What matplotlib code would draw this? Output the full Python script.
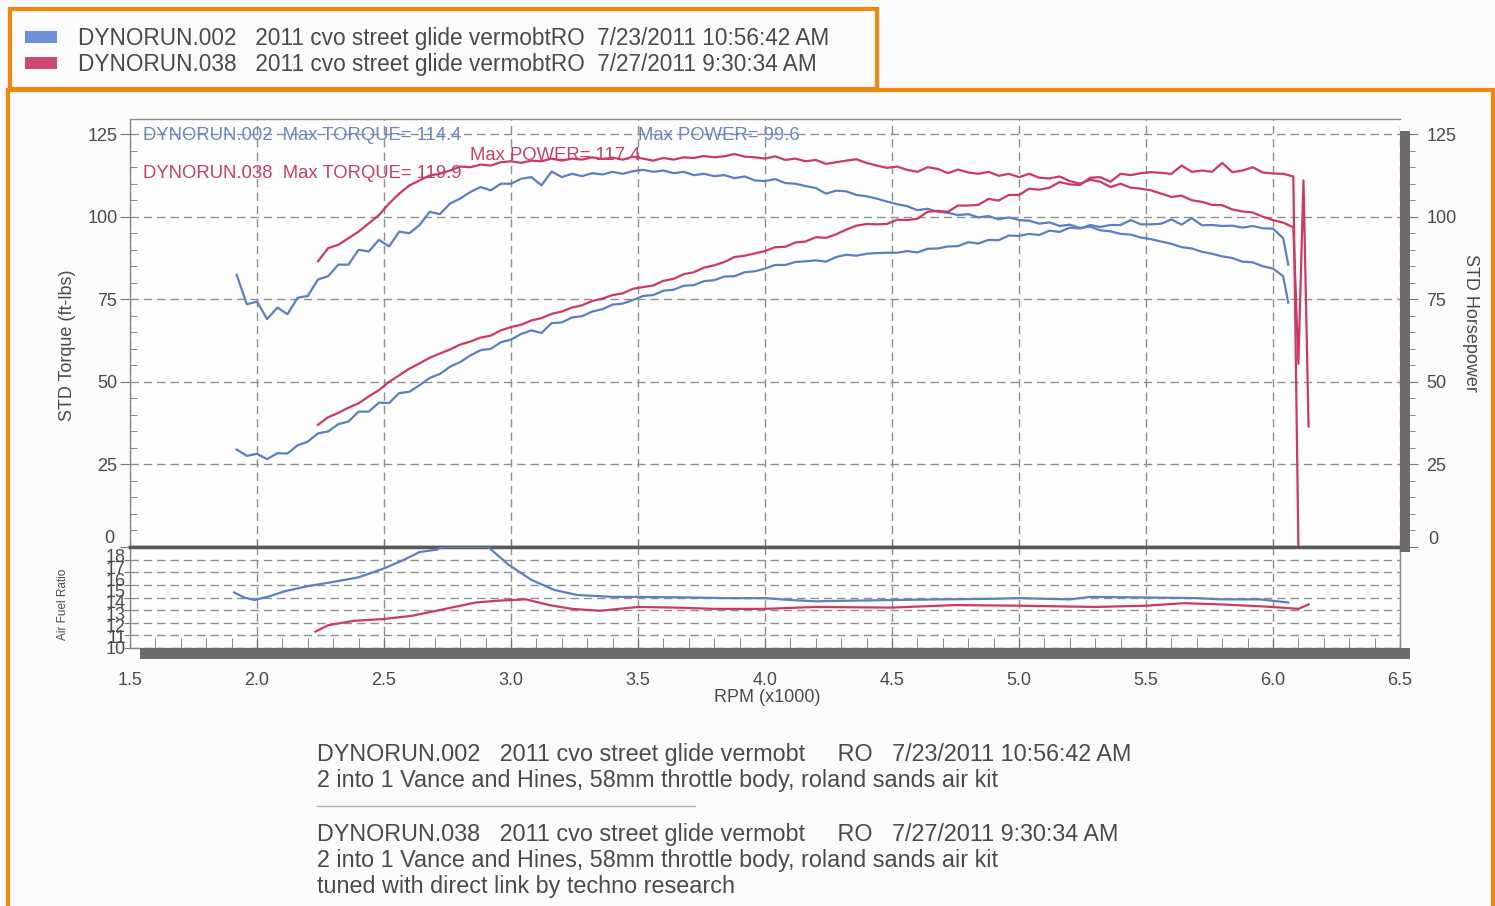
import numpy as np
import matplotlib.pyplot as plt
from matplotlib.patches import Rectangle
from matplotlib.lines import Line2D
from matplotlib.ticker import MultipleLocator

plt.rcParams['font.family'] = ['Liberation Sans', 'DejaVu Sans']

# ---- run DYNORUN.002 (blue) ----
rpm_002 = np.append(np.round(np.arange(1.92, 6.041, 0.04), 2), 6.06)
torque_002 = [
    82.4, 73.5, 74.3, 69.0, 72.5, 70.5, 75.5, 76.0, 81.0, 82.0,
    85.5, 85.5, 90.0, 89.5, 93.0, 91.0, 95.5, 95.0, 97.5, 101.5,
    100.8, 104.0, 105.5, 107.5, 109.0, 108.0, 110.0, 110.0, 111.5, 112.0,
    109.5, 113.7, 112.0, 113.0, 112.3, 113.2, 112.8, 113.6, 113.0, 113.8,
    114.2, 113.6, 114.0, 113.2, 113.6, 112.6, 113.0, 112.3, 112.6, 111.7,
    112.2, 111.0, 110.8, 111.4, 110.2, 110.0, 109.3, 108.7, 107.0, 107.9,
    107.7, 106.6, 106.2, 105.5, 104.6, 103.8, 103.2, 102.0, 102.4, 101.5,
    101.2, 100.5, 100.8, 99.8, 100.2, 99.2, 99.8, 99.0, 98.8, 97.9,
    98.3, 97.2, 97.6, 96.6, 97.0, 95.9, 95.6, 94.8, 94.6, 93.7,
    93.2, 92.5, 91.8, 90.8, 90.4, 89.4, 88.8, 88.0, 87.5, 86.4,
    86.2, 85.0, 84.3, 82.0, 74.0]
power_002 = [
    29.5, 27.6, 28.2, 26.6, 28.4, 28.3, 30.8, 31.9, 34.4, 35.0,
    37.2, 38.0, 41.0, 41.0, 43.7, 43.6, 46.6, 47.0, 49.0, 51.2,
    52.4, 54.6, 56.0, 58.0, 59.6, 60.0, 62.0, 62.8, 64.5, 65.6,
    64.8, 67.8, 68.0, 69.5, 69.9, 71.3, 72.0, 73.4, 73.7, 74.8,
    76.0, 76.3, 77.6, 77.9, 79.1, 79.3, 80.5, 80.8, 81.9, 82.0,
    83.2, 83.5, 84.3, 85.4, 85.4, 86.3, 86.5, 86.8, 86.4, 87.8,
    88.5, 88.2, 88.8, 89.0, 89.1, 89.1, 89.6, 89.2, 90.3, 90.4,
    91.0, 91.1, 92.3, 91.9, 93.0, 92.9, 94.3, 94.2, 94.8, 94.5,
    95.8, 95.4, 96.7, 96.4, 97.5, 96.9, 97.5, 97.5, 99.0, 97.7,
    97.7, 97.9, 99.2, 97.6, 99.6, 97.4, 97.5, 97.2, 97.3, 96.7,
    97.2, 96.5, 96.4, 93.5, 85.5]
afr_rpm_002 = [1.91, 1.95, 1.99, 2.05, 2.11, 2.20, 2.29, 2.40, 2.50, 2.58,
               2.64, 2.71, 2.73, 2.91, 2.99, 3.08, 3.17, 3.26, 3.40, 3.50,
               3.70, 3.85, 4.00, 4.10, 4.20, 4.35, 4.50, 4.70, 4.90, 5.00,
               5.20, 5.28, 5.50, 5.70, 5.80, 5.95, 6.06]
afr_002 = [14.4, 14.0, 13.8, 14.1, 14.5, 14.9, 15.2, 15.6, 16.3, 17.0,
           17.6, 17.8, 18.0, 18.0, 16.6, 15.4, 14.6, 14.2, 14.05, 14.05,
           14.0, 13.95, 13.95, 13.8, 13.7, 13.75, 13.8, 13.85, 13.9, 13.95,
           13.85, 14.05, 14.0, 13.95, 13.85, 13.85, 13.6]

# ---- run DYNORUN.038 (red) ----
rpm_038 = np.round(np.arange(2.24, 6.081, 0.04), 2)
torque_rpm_038 = np.append(rpm_038, [6.10, 6.12, 6.14])
torque_038 = [
    86.5, 90.5, 91.5, 93.5, 95.5, 98.0, 100.5, 104.0, 107.0, 109.5,
    111.0, 112.5, 113.0, 114.0, 115.2, 115.0, 115.8, 115.5, 116.5, 116.8,
    116.3, 117.0, 116.8, 117.6, 117.0, 117.6, 117.3, 118.0, 117.5, 117.9,
    117.3, 118.2, 117.6, 117.0, 117.8, 117.3, 118.0, 117.8, 118.4, 118.0,
    118.3, 119.0, 118.2, 118.0, 117.6, 118.3, 117.2, 117.6, 116.8, 117.2,
    116.0, 116.5, 117.0, 117.4, 116.3, 115.5, 114.8, 115.2, 114.2, 113.6,
    115.0, 114.5, 113.2, 114.3, 113.4, 113.0, 113.6, 112.4, 113.0, 112.0,
    113.0, 111.8, 111.6, 112.2, 110.8, 110.0, 111.2, 110.6, 109.0, 110.0,
    108.8, 108.5, 108.0, 107.0, 106.0, 106.4, 105.0, 104.5, 103.6, 103.5,
    102.2, 101.6, 101.3, 100.0, 99.0, 98.2, 96.8,
    55.5, 111.0, 36.5]
power_rpm_038 = np.append(rpm_038, 6.10)
power_038 = [
    37.0, 39.3, 40.6, 42.2, 43.5, 45.6, 47.5, 50.0, 52.0, 54.0,
    55.6, 57.3, 58.6, 59.8, 61.3, 62.2, 63.4, 64.0, 65.6, 66.6,
    67.3, 68.6, 69.3, 70.6, 71.3, 72.5, 73.2, 74.5, 75.2, 76.3,
    76.8, 78.2, 78.7, 79.2, 80.6, 81.2, 82.6, 83.2, 84.6, 85.3,
    86.3, 87.8, 88.2, 88.9, 89.6, 90.8, 90.9, 92.2, 92.5, 93.8,
    93.6, 94.7, 96.1, 97.3, 97.8, 97.7, 97.8, 99.1, 99.0, 99.4,
    101.5, 101.8, 101.5, 103.4, 103.4, 103.6, 105.4, 104.9, 106.6, 106.6,
    108.5, 108.2, 108.8, 110.5, 109.8, 109.6, 111.8, 112.0, 110.6, 113.0,
    112.6, 113.2, 113.5, 113.3, 113.0, 115.5, 113.6, 114.0, 113.6, 116.3,
    113.5, 114.0, 115.0, 113.4, 113.1, 113.0, 112.2,
    0.0]
afr_rpm_038 = [2.23, 2.28, 2.38, 2.50, 2.61, 2.73, 2.86, 2.95, 3.06, 3.15,
               3.24, 3.35, 3.45, 3.50, 3.65, 3.80, 4.00, 4.20, 4.50, 4.75,
               5.00, 5.30, 5.50, 5.65, 5.80, 6.00, 6.10, 6.14]
afr_038 = [11.3, 11.8, 12.15, 12.3, 12.55, 13.05, 13.6, 13.75, 13.85, 13.4,
           13.1, 12.95, 13.15, 13.25, 13.2, 13.1, 13.1, 13.25, 13.2, 13.4,
           13.35, 13.25, 13.35, 13.55, 13.45, 13.25, 13.1, 13.45]

y_ticks = [0, 25, 50, 75, 100, 125]
afr_ticks = [10, 11, 12, 13, 14, 15, 16, 17, 18]

legend_lines = ["DYNORUN.002   2011 cvo street glide vermobtRO  7/23/2011 10:56:42 AM",
                "DYNORUN.038   2011 cvo street glide vermobtRO  7/27/2011 9:30:34 AM"]
notes = ["DYNORUN.002   2011 cvo street glide vermobt     RO   7/23/2011 10:56:42 AM",
         "2 into 1 Vance and Hines, 58mm throttle body, roland sands air kit",
         "DYNORUN.038   2011 cvo street glide vermobt     RO   7/27/2011 9:30:34 AM",
         "2 into 1 Vance and Hines, 58mm throttle body, roland sands air kit",
         "tuned with direct link by techno research"]

BLUE = '#5c7fbd'
RED = '#c93a64'
ORANGE = '#f0870f'
GRID = '#8f8f8f'
TXT = '#4a4a4a'
SHADOW = '#6e6a6c'

W, H = 1495, 906


def fx(px):
    return px / W


def fy(py):
    return 1 - py / H


fig = plt.figure(figsize=(W / 100, H / 100), dpi=100, facecolor='#fbfbfb')

# orange frames
fig.add_artist(Rectangle((fx(8), fy(912)), fx(1493) - fx(8), (912 - 90) / H,
                         transform=fig.transFigure, fill=False, ec=ORANGE, lw=3))
fig.add_artist(Rectangle((fx(10), fy(89)), fx(877) - fx(10), (89 - 9) / H,
                         transform=fig.transFigure, fill=False, ec=ORANGE, lw=3))

# top legend
for i, (txt, c) in enumerate(zip(legend_lines, ['#6d8fd6', '#cc4a72'])):
    yc = 37 + 26 * i
    fig.add_artist(Rectangle((fx(25), fy(yc + 6)), fx(57) - fx(25), 12 / H,
                             transform=fig.transFigure, fc=c, ec='none'))
    fig.text(fx(78), fy(yc + 1), txt, fontsize=16.3, color=TXT, va='center', ha='left')

# ---- main torque / power axes ----
ax = fig.add_axes([fx(130), fy(547), fx(1400) - fx(130), fy(119) - fy(547)])
ax.set_facecolor('#fdfdfd')
ax.plot(rpm_002, torque_002, color=BLUE, lw=1.6, zorder=3)
ax.plot(rpm_002, power_002, color=BLUE, lw=1.6, zorder=3)
ax.plot(torque_rpm_038, torque_038, color=RED, lw=1.6, zorder=3)
ax.plot(power_rpm_038, power_038, color=RED, lw=1.6, zorder=3)
ax.set_xlim(1.5, 6.5)
ax.set_ylim(0, 129.6)
ax.set_axisbelow(True)
ax.xaxis.set_major_locator(MultipleLocator(0.5))
ax.set_yticks(y_ticks, ['' if v == 0 else str(v) for v in y_ticks])
ax.yaxis.set_minor_locator(MultipleLocator(5))
ax.grid(True, which='major', color=GRID, lw=1.0, linestyle=(0, (6, 3.6)))
ax.tick_params(axis='x', which='major', direction='in', length=6, color='#777777', labelbottom=False)
ax.tick_params(axis='y', which='major', direction='out', length=7, color='#777777',
               labelsize=13, labelcolor=TXT, pad=2)
ax.tick_params(axis='y', which='minor', direction='in', length=5, color='#777777')
for s in ['top', 'left']:
    ax.spines[s].set_color('#8a8a8a')
    ax.spines[s].set_linewidth(1.0)
ax.spines['right'].set_visible(False)
ax.spines['bottom'].set_color('#5a5a5a')
ax.spines['bottom'].set_linewidth(2.5)
# the zero labels sit a little above the axis line on the sheet
ax.text(-0.012, 0.019, "0", transform=ax.transAxes, ha='right', va='center',
        fontsize=13, color=TXT)

axr = ax.twinx()
axr.set_ylim(0, 129.6)
axr.set_yticks(y_ticks, ['' if v == 0 else str(v) for v in y_ticks])
axr.yaxis.set_minor_locator(MultipleLocator(5))
axr.tick_params(axis='y', which='major', direction='out', length=13, color='#777777',
                labelsize=13, labelcolor=TXT, pad=6)
axr.tick_params(axis='y', which='minor', direction='out', length=11, color='#777777')
for s in axr.spines.values():
    s.set_visible(False)
axr.text(1.022, 0.017, "0", transform=axr.transAxes, ha='left', va='center',
         fontsize=13, color=TXT)

# annotations
ax.text(fx(143), fy(135), "DYNORUN.002  Max TORQUE= 114.4", transform=fig.transFigure,
        fontsize=13.3, color='#6a88bd', va='center', zorder=2)
ax.text(fx(638), fy(136), "Max POWER= 99.6", transform=fig.transFigure,
        fontsize=13.3, color='#6a88bd', va='center', zorder=2)
ax.text(fx(143), fy(173), "DYNORUN.038  Max TORQUE= 119.9", transform=fig.transFigure,
        fontsize=13.3, color='#c4406a', va='center', zorder=2)
ax.text(fx(470), fy(155), "Max POWER= 117.4", transform=fig.transFigure,
        fontsize=13.3, color='#c4406a', va='center', zorder=2)

fig.text(fx(67), fy(345), "STD Torque (ft-lbs)", rotation=90, fontsize=13,
         color=TXT, ha='center', va='center')
fig.text(fx(1470), fy(323), "STD Horsepower", rotation=270, fontsize=13,
         color=TXT, ha='center', va='center')

# ---- air fuel ratio axes ----
axa = fig.add_axes([fx(130), fy(648), fx(1400) - fx(130), fy(547) - fy(648)])
axa.set_facecolor('#fdfdfd')
axa.plot(afr_rpm_002, afr_002, color=BLUE, lw=1.6, zorder=3)
axa.plot(afr_rpm_038, afr_038, color=RED, lw=1.6, zorder=3)
axa.set_xlim(1.5, 6.5)
axa.set_ylim(10, 18)
axa.set_axisbelow(True)
axa.xaxis.set_major_locator(MultipleLocator(0.5))
axa.xaxis.set_minor_locator(MultipleLocator(0.1))
axa.set_yticks(afr_ticks, [''] * len(afr_ticks))
axa.xaxis.set_major_formatter(lambda v, p: f"{v:.1f}")
axa.grid(True, which='major', color=GRID, lw=1.0, linestyle=(0, (6, 3.6)))
axa.tick_params(axis='x', which='major', direction='in', length=8, color='#777777',
                labelsize=13, labelcolor=TXT, pad=17)
axa.tick_params(axis='x', which='minor', direction='in', length=7, color='#777777')
axa.tick_params(axis='y', which='major', direction='out', length=4, color='#777777')
axa.spines['top'].set_color('#5a5a5a')
axa.spines['top'].set_linewidth(2.5)
for s in ['left', 'bottom', 'right']:
    axa.spines[s].set_color('#8a8a8a')
    axa.spines[s].set_linewidth(1.0)

# the AFR scale labels on the sheet are squeezed a little below the top edge
axl = fig.add_axes([fx(130), fy(648), 0.001, fy(556) - fy(648)], frameon=False)
axl.set_ylim(10, 18)
axl.set_xticks([])
axl.set_yticks(afr_ticks, [str(v) for v in afr_ticks])
axl.tick_params(axis='y', length=0, labelsize=13, labelcolor=TXT, pad=3)
axl.patch.set_visible(False)

fig.text(fx(63), fy(604), "Air Fuel Ratio", rotation=90, fontsize=8.5,
         color=TXT, ha='center', va='center')
fig.text(fx(767), fy(697), "RPM (x1000)", fontsize=13, color=TXT, ha='center', va='center')

# drop shadows
fig.add_artist(Rectangle((fx(1400), fy(552)), 10 / W, (552 - 131) / H,
                         transform=fig.transFigure, fc=SHADOW, ec='none'))
fig.add_artist(Rectangle((fx(140), fy(659)), fx(1410) - fx(140), 11 / H,
                         transform=fig.transFigure, fc=SHADOW, ec='none'))

# notes below chart
for txt, yp in zip(notes, [755, 781, 834, 860, 886]):
    fig.text(fx(317), fy(yp), txt, fontsize=16.8, color=TXT, va='center', ha='left')
fig.add_artist(Line2D([fx(317), fx(695)], [fy(806), fy(806)], transform=fig.transFigure,
                      color='#b0b0b0', lw=1))

fig.savefig('out.png', dpi=100, facecolor=fig.get_facecolor())
